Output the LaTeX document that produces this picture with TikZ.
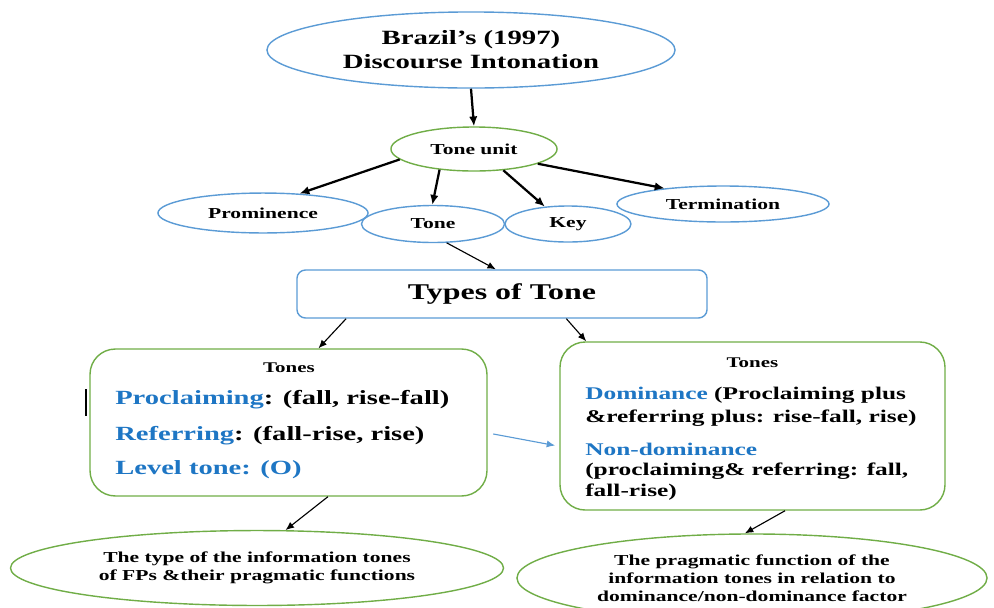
\documentclass[tikz,border=0pt]{standalone}
\usepackage{fontspec}
\setmainfont{Liberation Serif}[FakeStretch=1.42]
\usetikzlibrary{shapes.geometric,arrows.meta}
\definecolor{ovalblue}{RGB}{91,155,213}
\definecolor{ovalgreen}{RGB}{112,173,71}
\definecolor{toneblue}{RGB}{30,118,196}
\tikzset{
	blueoval/.style={ellipse, draw=ovalblue, line width=1pt, inner sep=0pt, align=center, font=\bfseries\fontsize{10.8}{13}\selectfont},
	greenoval/.style={blueoval, draw=ovalgreen},
	tonebox/.style={rectangle, rounded corners=18pt, draw=ovalgreen, line width=1pt, inner sep=0pt},
	bigarrow/.style={-{Latex[length=7pt,width=6pt]}, line width=1.6pt},
	thinarrow/.style={-{Latex[length=6pt,width=5pt]}, line width=0.8pt},
	boxtext/.style={anchor=west, inner sep=0pt, font=\bfseries\fontsize{14.3}{16}\selectfont},
	smalltext/.style={anchor=west, inner sep=0pt, font=\bfseries\fontsize{12.7}{14}\selectfont},
	tonestitle/.style={inner sep=0pt, font=\bfseries\fontsize{10.5}{12}\selectfont}
}

\begin{document}
\begin{tikzpicture}[x=0.025cm, y=-0.025cm]
			%%%%% START %%%%%
			\useasboundingbox (0, 0) rectangle (994, 607);
			\clip (0, 0) rectangle (994, 607);
			
			\node[blueoval, minimum width=290.2pt, minimum height=54.1pt, font=\bfseries\fontsize{14.4}{17.1}\selectfont] (brazil) at (471, 50) {Brazil’s (1997)\\Discourse Intonation};
			\node[greenoval, minimum width=118.1pt, minimum height=31.3pt] (tu) at (474, 149) {Tone unit};
			
			\node[blueoval, minimum width=149.4pt, minimum height=28.4pt] (prom) at (263, 213) {Prominence};
			\node[blueoval, minimum width=101.7pt, minimum height=26.3pt] (tone) at (433, 224) {Tone};
			\node[blueoval, minimum width=89.6pt, minimum height=25.6pt] (key) at (568, 224) {Key};
			\node[blueoval, minimum width=150.8pt, minimum height=25.6pt] (term) at (723, 204) {Termination};
			
			\node[rectangle, rounded corners=6pt, draw=ovalblue, line width=1pt, minimum width=291.6pt, minimum height=34.1pt, font=\bfseries\fontsize{16}{19}\selectfont] (types) at (502, 294) {Types of Tone};
			
			\node[tonebox, minimum width=282.3pt, minimum height=104.5pt] (lbox) at (288.5, 422.5) {};
			\node[tonestitle] (ltitle) at (289, 368) {Tones};
			\node[boxtext] (lproc) at (115, 400) {\textcolor{toneblue}{Proclaiming}: (fall, rise-fall)};
			\node[boxtext] (lref) at (115, 436) {\textcolor{toneblue}{Referring}: (fall-rise, rise)};
			\node[boxtext, text=toneblue] (llevel) at (115, 470) {Level tone: (O)};
			\draw[line width=1.3pt] (86, 389) -- (86, 416);
			
			\node[tonebox, minimum width=273.8pt, minimum height=119.5pt] (rbox) at (752.5, 426) {};
			\node[tonestitle] (rtitle) at (752.5, 363) {Tones};
			\node[smalltext] (rdom) at (585, 395) {\textcolor{toneblue}{Dominance} (Proclaiming plus};
			\node[smalltext] (rdomb) at (585, 418) {\&referring plus: rise-fall, rise)};
			\node[smalltext, text=toneblue] (rnon) at (585, 449) {Non-dominance};
			\node[smalltext] (rnonb) at (585, 471) {(proclaiming\& referring: fall,};
			\node[smalltext] (rnonc) at (585, 492) {fall-rise)};
			
			\node[greenoval, minimum width=350.6pt, minimum height=53.3pt] (bl) at (257, 568) {The type of the information tones\\of FPs \&their pragmatic functions};
			\node[greenoval, minimum width=334.3pt, minimum height=62.6pt] (br) at (752, 578) {The pragmatic function of the\\information tones in relation to\\dominance/non-dominance factor};
			
			\draw[bigarrow] (brazil.south) -- (tu.north);
			\draw[bigarrow] (tu.188) -- (prom.28);
			\draw[bigarrow] (tu.211) -- (tone.92);
			\draw[bigarrow] (tu.-36) -- (key.143);
			\draw[bigarrow] (tu.-13) -- (term.165);
			
			\draw[thinarrow] (tone.-54) -- (types.104);
			\draw[thinarrow] (types.189) -- (lbox.68);
			\draw[thinarrow] (types.-21) -- (rbox.153);
			\draw[thinarrow, draw=ovalblue, shorten <=4pt, shorten >=3pt] (lbox.-3) -- (rbox.186);
			\draw[thinarrow] (lbox.-62) -- (bl.53);
			\draw[thinarrow] (rbox.-69) -- (br.99);
			%%%%% END %%%%%
\end{tikzpicture}
\end{document}
